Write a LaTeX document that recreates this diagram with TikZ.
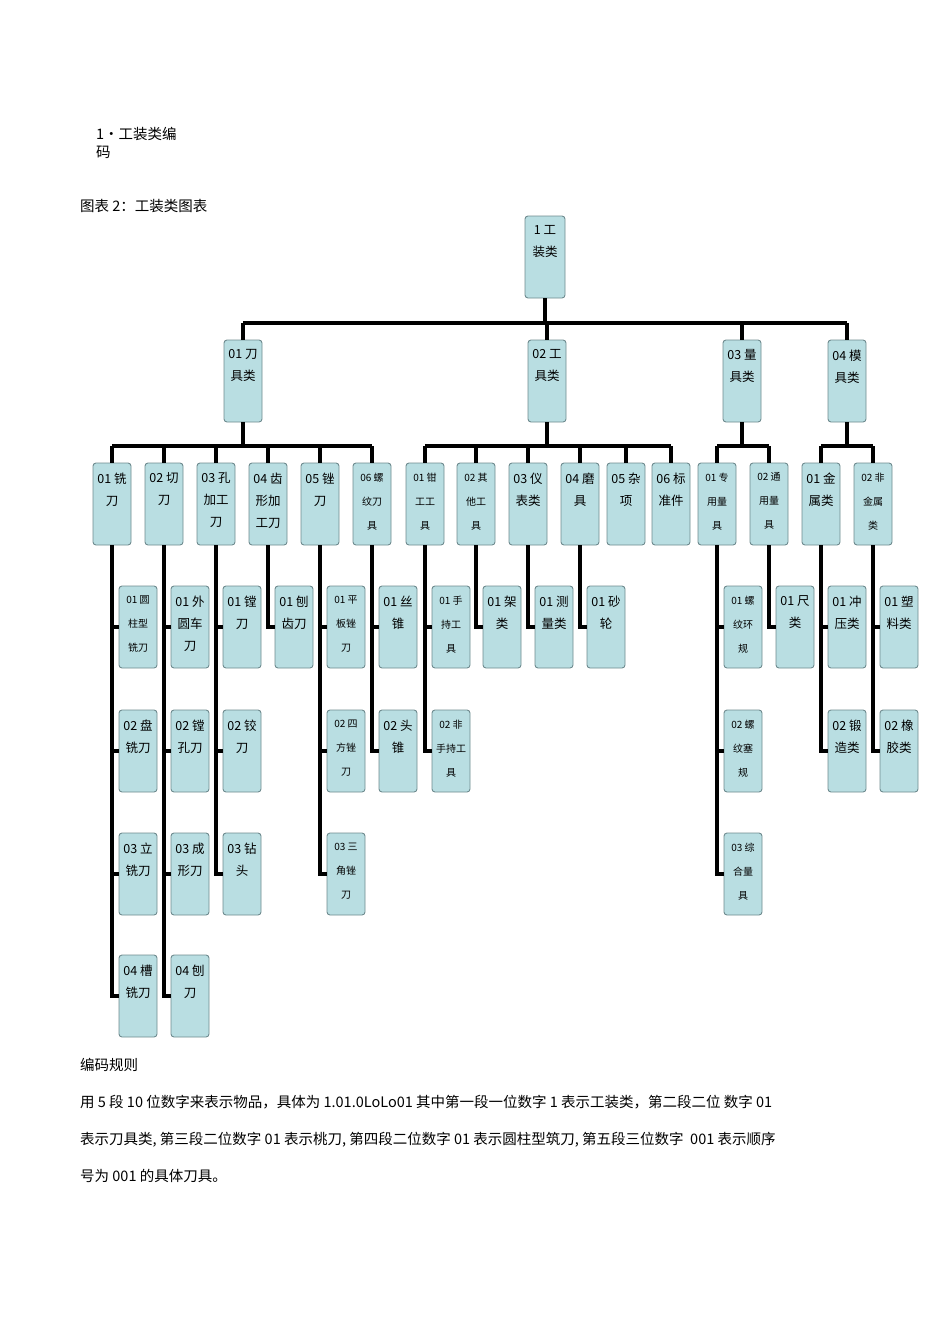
\documentclass[tikz,border=0pt]{standalone}
\usepackage{fontspec}
\setmainfont{Noto Sans CJK SC}
\definecolor{boxfill}{HTML}{B9DEE2}
\definecolor{boxline}{HTML}{6E8A8E}
\begin{document}
\begin{tikzpicture}[x=1pt,y=-1pt,
 bx/.style={draw=boxline,fill=boxfill,rounded corners=3pt,minimum width=38pt,minimum height=82pt,inner sep=0pt,line width=0.9pt},
 ln/.style={line width=3.4pt},
 lf/.style={font=\fontsize{12.5}{22}\selectfont},
 sf/.style={font=\fontsize{10}{24}\selectfont},
 tx/.style={anchor=north west,inner sep=0pt,font=\fontsize{14.5}{18}\selectfont}]
\useasboundingbox (0,0) rectangle (950,1344);
\newcommand\bx[5]{\node[bx] (#1) at (#2,#3) {};\node[anchor=north,align=center,inner sep=0pt,#5] (#1t) at ([yshift=-10pt]#1.north) {#4};}
% texts
\node[tx,align=left] (h1) at (96,127) {1•工装类编\\码};
\node[tx] (h2) at (80,199) {图表 2：工装类图表};
\node[tx] (h3) at (80,1058) {编码规则};
\node[tx] (p1) at (80,1095) {用 5 段 10 位数字来表示物品，具体为 1.01.0LoLo01 其中第一段一位数字 1 表示工装类，第二段二位 数字 01};
\node[tx] (p2) at (80,1132) {表示刀具类, 第三段二位数字 01 表示桃刀, 第四段二位数字 01 表示圆柱型筑刀, 第五段三位数字 \ 001 表示顺序};
\node[tx] (p3) at (80,1169) {号为 001 的具体刀具。};
% connectors
\coordinate (y1) at (0,323);
\coordinate (y2) at (0,446);
% boxes
\node[bx,minimum width=40pt] (r) at (545,257) {};
\node[anchor=north,align=center,inner sep=0pt,lf] (rt) at ([yshift=-10pt]r.north) {1 工\\装类};
\bx{a}{243}{381}{01 刀\\具类}{lf}
\bx{b}{547}{381}{02 工\\具类}{lf}
\bx{c}{742}{381}{03 量\\具类}{lf}
\bx{d}{847}{381}{04 模\\具类}{lf}
\draw[ln] (r.south) -- (r.south |- y1);
\draw[ln] (a.north |- y1) -- (d.north |- y1);
\foreach \n in {a,b,c,d} \draw[ln] (\n.north) -- (\n.north |- y1);
\bx{a1}{112}{504}{01 铣\\刀}{lf}
\bx{a2}{164}{504}{02 切\\刀}{lf}
\bx{a3}{216}{504}{03 孔\\加工\\刀}{lf}
\bx{a4}{268}{504}{04 齿\\形加\\工刀}{lf}
\bx{a5}{320}{504}{05 锉\\刀}{lf}
\bx{a6}{372}{504}{06 螺\\纹刀\\具}{sf}
\bx{b1}{425}{504}{01 钳\\工工\\具}{sf}
\bx{b2}{476}{504}{02 其\\他工\\具}{sf}
\bx{b3}{528}{504}{03 仪\\表类}{lf}
\bx{b4}{580}{504}{04 磨\\具}{lf}
\bx{b5}{626}{504}{05 杂\\项}{lf}
\bx{b6}{671}{504}{06 标\\准件}{lf}
\bx{c1}{717}{504}{01 专\\用量\\具}{sf}
\bx{c2}{769}{504}{02 通\\用量\\具}{sf}
\bx{d1}{821}{504}{01 金\\属类}{lf}
\bx{d2}{873}{504}{02 非\\金属\\类}{sf}
\foreach \p/\f/\l in {a/a1/a6,b/b1/b6,c/c1/c2,d/d1/d2}{
 \draw[ln] (\p.south) -- (\p.south |- y2);
 \draw[ln] (\f.north |- y2) -- (\l.north |- y2);}
\foreach \n in {a1,a2,a3,a4,a5,a6,b1,b2,b3,b4,b5,b6,c1,c2,d1,d2} \draw[ln] (\n.north) -- (\n.north |- y2);
\foreach \p/\c in {a1/a11,a1/a12,a1/a13,a1/a14,a2/a21,a2/a22,a2/a23,a2/a24,a3/a31,a3/a32,a3/a33,a4/a41,a5/a51,a5/a52,a5/a53,a6/a61,a6/a62,b1/b11,b1/b12,b2/b21,b3/b31,b4/b41,c1/c11,c1/c12,c1/c13,c2/c21,d1/d11,d1/d12,d2/d21,d2/d22}{
 \path (\p.south) ++(0,0) coordinate (tmp);}
% level 4
\bx{a11}{138}{627}{01 圆\\柱型\\铣刀}{sf}
\bx{a12}{138}{751}{02 盘\\铣刀}{lf}
\bx{a13}{138}{874}{03 立\\铣刀}{lf}
\bx{a14}{138}{996}{04 槽\\铣刀}{lf}
\bx{a21}{190}{627}{01 外\\圆车\\刀}{lf}
\bx{a22}{190}{751}{02 镗\\孔刀}{lf}
\bx{a23}{190}{874}{03 成\\形刀}{lf}
\bx{a24}{190}{996}{04 刨\\刀}{lf}
\bx{a31}{242}{627}{01 镗\\刀}{lf}
\bx{a32}{242}{751}{02 铰\\刀}{lf}
\bx{a33}{242}{874}{03 钻\\头}{lf}
\bx{a41}{294}{627}{01 刨\\齿刀}{lf}
\bx{a51}{346}{627}{01 平\\板锉\\刀}{sf}
\bx{a52}{346}{751}{02 四\\方锉\\刀}{sf}
\bx{a53}{346}{874}{03 三\\角锉\\刀}{sf}
\bx{a61}{398}{627}{01 丝\\锥}{lf}
\bx{a62}{398}{751}{02 头\\锥}{lf}
\bx{b11}{451}{627}{01 手\\持工\\具}{sf}
\bx{b12}{451}{751}{02 非\\手持工\\具}{sf}
\bx{b21}{502}{627}{01 架\\类}{lf}
\bx{b31}{554}{627}{01 测\\量类}{lf}
\bx{b41}{606}{627}{01 砂\\轮}{lf}
\bx{c11}{743}{627}{01 螺\\纹环\\规}{sf}
\bx{c12}{743}{751}{02 螺\\纹塞\\规}{sf}
\bx{c13}{743}{874}{03 综\\合量\\具}{sf}
\bx{c21}{795}{627}{01 尺\\类}{lf}
\bx{d11}{847}{627}{01 冲\\压类}{lf}
\bx{d12}{847}{751}{02 锻\\造类}{lf}
\bx{d21}{899}{627}{01 塑\\料类}{lf}
\bx{d22}{899}{751}{02 橡\\胶类}{lf}
\foreach \p/\c in {a1/a11,a1/a12,a1/a13,a1/a14,a2/a21,a2/a22,a2/a23,a2/a24,a3/a31,a3/a32,a3/a33,a4/a41,a5/a51,a5/a52,a5/a53,a6/a61,a6/a62,b1/b11,b1/b12,b2/b21,b3/b31,b4/b41,c1/c11,c1/c12,c1/c13,c2/c21,d1/d11,d1/d12,d2/d21,d2/d22}
 \draw[ln] (\p.south) |- (\c.west);
\end{tikzpicture}
\end{document}
